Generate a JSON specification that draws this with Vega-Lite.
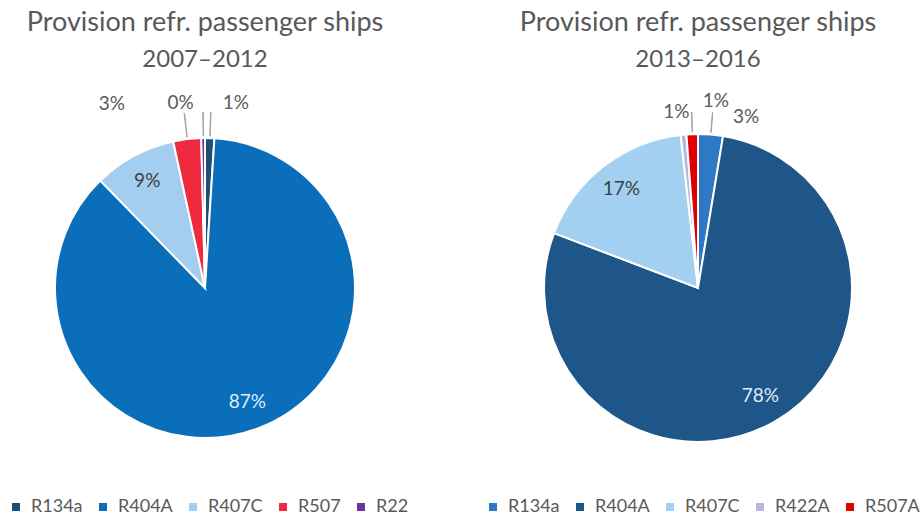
{
  "$schema": "https://vega.github.io/schema/vega-lite/v6.json",
  "padding": {"left": 0, "top": 9, "right": 0, "bottom": 0},
  "background": "white",
  "spacing": 78,
  "bounds": "flush",
  "config": {
    "view": {"stroke": null},
    "font": "Lato",
    "title": {"font": "Lato", "fontSize": 27, "fontWeight": "normal", "color": "#595959", "subtitleFont": "Lato", "subtitleFontSize": 24, "subtitleColor": "#595959", "subtitlePadding": 11, "anchor": "middle", "offset": 5},
    "legend": {"orient": "none", "direction": "horizontal", "symbolType": "square", "symbolSize": 64, "symbolStrokeWidth": 0, "labelFont": "Lato", "labelFontSize": 18, "labelColor": "#595959", "labelOffset": 6, "columnPadding": 11, "title": null}
  },
  "resolve": {"scale": {"color": "independent", "theta": "independent"}, "legend": {"color": "independent"}},
  "hconcat": [
    {
      "width": 410,
      "height": 420,
      "title": {"text": "Provision refr. passenger ships", "subtitle": "2007–2012"},
      "data": {"values": [
        {"ref": "R134a", "i": 1, "share": 0.010},
        {"ref": "R404A", "i": 2, "share": 0.867},
        {"ref": "R407C", "i": 3, "share": 0.089},
        {"ref": "R507", "i": 4, "share": 0.030},
        {"ref": "R22", "i": 5, "share": 0.004}
      ]},
      "transform": [
        {"stack": "share", "groupby": [], "sort": [{"field": "i"}], "as": ["s0", "s1"]},
        {"calculate": "(datum.s0 + datum.s1) / 2", "as": "mid"}
      ],
      "layer": [
        {
          "mark": {"type": "arc", "radius": 150, "stroke": "white", "strokeWidth": 2},
          "encoding": {
            "theta": {"field": "s0", "type": "quantitative", "scale": {"domain": [0, 1]}},
            "theta2": {"field": "s1"},
            "color": {"field": "ref", "type": "nominal", "scale": {"domain": ["R134a", "R404A", "R407C", "R507", "R22"], "range": ["#1F4E79", "#0B6EBA", "#A3CEEF", "#EE2A3E", "#7030A0"]}, "legend": {"legendX": 7, "legendY": 420}}
          }
        },
        {
          "transform": [{"filter": "datum.share < 0.05"}],
          "mark": {"type": "arc", "radius": 152, "radius2": 176, "theta2Offset": 0.003, "fill": "#A6A6A6", "stroke": "#A6A6A6", "strokeWidth": 1},
          "encoding": {"theta": {"field": "mid", "type": "quantitative"}, "theta2": {"field": "mid"}}
        },
        {
          "transform": [{"filter": "datum.share >= 0.05"}],
          "mark": {"type": "text", "radius": 122, "fontSize": 19, "font": "Lato"},
          "encoding": {
            "theta": {"field": "mid", "type": "quantitative"},
            "text": {"field": "share", "type": "quantitative", "format": ".0%"},
            "color": {"condition": {"test": "datum.share > 0.5", "value": "#DDEBF7"}, "value": "#404040"}
          }
        },
        {
          "transform": [{"filter": "datum.ref == 'R134a'"}],
          "mark": {"type": "text", "radius": 185, "dx": 25, "fontSize": 19, "color": "#595959"},
          "encoding": {"theta": {"field": "mid", "type": "quantitative"}, "text": {"field": "share", "type": "quantitative", "format": ".0%"}}
        },
        {
          "transform": [{"filter": "datum.ref == 'R22'"}],
          "mark": {"type": "text", "radius": 185, "dx": -22, "fontSize": 19, "color": "#595959"},
          "encoding": {"theta": {"field": "mid", "type": "quantitative"}, "text": {"field": "share", "type": "quantitative", "format": ".0%"}}
        },
        {
          "transform": [{"filter": "datum.ref == 'R507'"}],
          "mark": {"type": "text", "radius": 185, "dx": -71, "fontSize": 19, "color": "#595959"},
          "encoding": {"theta": {"field": "mid", "type": "quantitative"}, "text": {"field": "share", "type": "quantitative", "format": ".0%"}}
        }
      ]
    },
    {
      "width": 420,
      "height": 420,
      "title": {"text": "Provision refr. passenger ships", "subtitle": "2013–2016"},
      "data": {"values": [
        {"ref": "R134a", "i": 1, "share": 0.026},
        {"ref": "R404A", "i": 2, "share": 0.782},
        {"ref": "R407C", "i": 3, "share": 0.174},
        {"ref": "R422A", "i": 4, "share": 0.006},
        {"ref": "R507A", "i": 5, "share": 0.012}
      ]},
      "transform": [
        {"stack": "share", "groupby": [], "sort": [{"field": "i"}], "as": ["s0", "s1"]},
        {"calculate": "(datum.s0 + datum.s1) / 2", "as": "mid"}
      ],
      "layer": [
        {
          "mark": {"type": "arc", "radius": 154, "stroke": "white", "strokeWidth": 2},
          "encoding": {
            "theta": {"field": "s0", "type": "quantitative", "scale": {"domain": [0, 1]}},
            "theta2": {"field": "s1"},
            "color": {"field": "ref", "type": "nominal", "scale": {"domain": ["R134a", "R404A", "R407C", "R422A", "R507A"], "range": ["#2E78C6", "#1F5689", "#A3D0F0", "#B4B8DC", "#E00000"]}, "legend": {"legendX": -4, "legendY": 420}}
          }
        },
        {
          "transform": [{"filter": "datum.ref == 'R134a' || datum.ref == 'R507A'"}],
          "mark": {"type": "arc", "radius": 156, "radius2": 176, "theta2Offset": 0.003, "fill": "#A6A6A6", "stroke": "#A6A6A6", "strokeWidth": 1},
          "encoding": {"theta": {"field": "mid", "type": "quantitative"}, "theta2": {"field": "mid"}}
        },
        {
          "transform": [{"filter": "datum.share >= 0.05"}],
          "mark": {"type": "text", "radius": 125, "fontSize": 19, "font": "Lato"},
          "encoding": {
            "theta": {"field": "mid", "type": "quantitative"},
            "text": {"field": "share", "type": "quantitative", "format": ".0%"},
            "color": {"condition": {"test": "datum.share > 0.5", "value": "#DDEBF7"}, "value": "#404040"}
          }
        },
        {
          "transform": [{"filter": "datum.ref == 'R134a'"}],
          "mark": {"type": "text", "radius": 172, "dx": 34, "fontSize": 19, "color": "#595959"},
          "encoding": {"theta": {"field": "mid", "type": "quantitative"}, "text": {"field": "share", "type": "quantitative", "format": ".0%"}}
        },
        {
          "transform": [{"filter": "datum.ref == 'R507A'"}],
          "mark": {"type": "text", "radius": 187, "dx": 25, "fontSize": 19, "color": "#595959"},
          "encoding": {"theta": {"field": "mid", "type": "quantitative"}, "text": {"field": "share", "type": "quantitative", "format": ".0%"}}
        },
        {
          "transform": [{"filter": "datum.ref == 'R422A'"}],
          "mark": {"type": "text", "radius": 177, "dx": -5, "fontSize": 19, "color": "#595959"},
          "encoding": {"theta": {"field": "mid", "type": "quantitative"}, "text": {"field": "share", "type": "quantitative", "format": ".0%"}}
        }
      ]
    }
  ]
}
